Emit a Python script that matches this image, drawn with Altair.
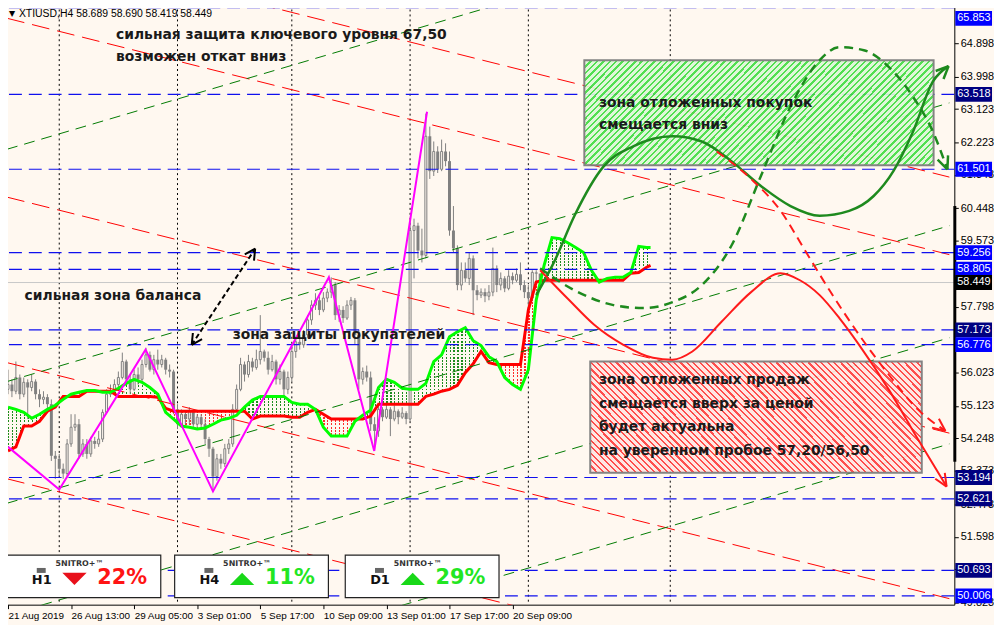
import math
import altair as alt
import pandas as pd

BG = "#FFF8F0"
W, H = 960, 605
XMIN, XMAX = -0.25, 238.8
YMIN, YMAX = 49.768, 65.94
PPB = W / (XMAX - XMIN)
PPS = H / (YMAX - YMIN)

# ---------------- data ----------------
open_first = 55.57
close = [55.70, 55.52, 55.89, 55.44, 55.76, 55.62, 55.78, 55.44, 55.30, 55.36,
         55.17, 53.78, 53.70, 53.43, 53.30, 54.10, 54.55, 54.63, 53.83, 54.10,
         53.83, 54.18, 54.10, 54.23, 54.95, 55.44, 55.52, 55.70, 55.89, 56.32,
         55.84, 55.57, 55.97, 55.84, 56.24, 56.50, 56.10, 56.37, 56.24, 56.37,
         56.10, 56.05, 55.03, 54.63, 54.90, 54.77, 54.98, 54.63, 54.82, 54.63,
         54.23, 53.97, 53.22, 53.70, 53.57, 53.97, 54.10, 55.03, 55.57, 56.24,
         55.97, 56.32, 56.16, 56.37, 56.59, 56.42, 56.10, 56.32, 55.84, 56.05,
         55.57, 55.89, 56.59, 56.85, 56.77, 57.04, 57.44, 57.84, 57.97, 57.71,
         58.03, 58.19, 58.38, 57.57, 57.71, 57.49, 57.84, 57.97, 57.04, 55.84,
         56.05, 55.89, 54.63, 54.45, 55.03, 54.82, 55.03, 54.77, 54.98, 54.82,
         54.93, 54.77, 59.85, 59.98, 59.31, 59.18, 62.39, 61.45, 61.98, 61.50,
         61.98, 61.72, 59.85, 59.37, 58.38, 58.78, 58.56, 59.10, 58.24, 58.11,
         58.19, 58.08, 58.19, 58.83, 58.38, 58.56, 58.29, 58.62, 58.51, 58.67,
         58.38, 58.19, 58.03, 58.72, 58.689, 58.449]
high = [56.10, 55.84, 56.32, 55.97, 55.89, 55.84, 55.97, 55.84, 55.57, 55.52,
        55.44, 55.30, 53.91, 53.83, 53.57, 54.23, 54.90, 54.90, 54.77, 54.23,
        54.23, 54.29, 54.29, 54.45, 55.03, 55.57, 55.70, 55.84, 56.05, 56.56,
        56.37, 55.97, 56.10, 56.16, 56.37, 56.69, 56.59, 56.50, 56.64, 56.50,
        56.42, 56.24, 56.10, 55.17, 55.03, 54.98, 55.09, 55.03, 54.90, 54.90,
        54.77, 54.29, 54.02, 53.83, 53.83, 54.10, 54.23, 55.17, 55.70, 56.42,
        56.32, 56.50, 56.42, 56.64, 57.57, 56.64, 56.59, 56.50, 56.37, 56.24,
        56.10, 56.05, 56.77, 56.96, 57.04, 57.17, 57.57, 57.97, 58.16, 58.08,
        58.19, 58.29, 58.59, 58.46, 57.84, 57.81, 57.97, 58.06, 58.03, 57.17,
        56.16, 56.21, 56.05, 54.82, 55.17, 55.09, 55.17, 55.09, 55.14, 55.03,
        55.09, 54.98, 60.11, 60.17, 60.06, 59.90, 63.00, 62.65, 62.25, 62.12,
        62.30, 62.20, 61.98, 60.51, 59.45, 58.99, 58.99, 59.26, 59.18, 58.38,
        58.29, 58.29, 58.38, 59.39, 58.91, 58.72, 58.62, 58.78, 58.72, 58.83,
        58.99, 58.51, 58.38, 58.78, 58.78, 58.690]
low = [55.44, 55.36, 55.44, 55.30, 55.36, 54.77, 55.52, 55.30, 55.09, 55.17,
       55.03, 53.64, 53.16, 53.22, 53.16, 53.22, 54.02, 54.45, 53.70, 53.75,
       53.70, 53.75, 53.97, 54.02, 54.15, 54.90, 55.36, 55.44, 55.62, 55.84,
       55.70, 55.44, 55.52, 55.70, 55.76, 56.16, 56.05, 55.97, 56.10, 56.16,
       55.97, 55.89, 54.90, 54.50, 54.55, 54.63, 54.63, 54.55, 54.55, 54.50,
       54.10, 53.75, 52.82, 53.11, 53.43, 53.48, 53.83, 54.02, 54.98, 55.52,
       55.78, 55.89, 56.05, 56.10, 56.24, 56.32, 55.97, 56.05, 55.70, 55.70,
       55.38, 55.44, 55.78, 56.42, 56.64, 56.69, 56.96, 57.31, 57.71, 57.57,
       57.65, 57.92, 58.03, 57.44, 57.39, 57.36, 57.44, 57.71, 56.77, 55.57,
       55.70, 55.78, 54.45, 53.91, 54.29, 54.71, 54.77, 54.31, 54.71, 54.63,
       54.77, 54.63, 54.71, 58.56, 59.10, 58.99, 59.10, 61.24, 61.32, 61.40,
       61.45, 61.58, 59.71, 59.26, 58.24, 58.24, 58.46, 58.38, 57.57, 57.97,
       58.03, 57.92, 57.97, 58.08, 58.19, 58.24, 58.19, 58.24, 58.40, 58.46,
       58.24, 58.03, 57.71, 57.97, 58.40, 58.419]

ichi_bar = list(range(0, 163, 2)) + [163]
span_a = [55.09, 55.03, 54.95, 54.79, 54.90, 55.03, 55.14, 55.30, 55.44, 55.49,
          55.54, 55.54, 55.49, 55.49, 55.60, 55.73, 55.84, 55.76, 55.62, 55.44,
          54.95, 54.77, 54.58, 54.55, 54.50, 54.53, 54.63, 54.74, 54.79, 54.87,
          55.09, 55.28, 55.38, 55.38, 55.38, 55.38, 55.22, 55.17, 55.17, 55.03,
          54.55, 54.31, 54.31, 54.31, 54.71, 54.87, 55.01, 55.62, 55.84, 55.76,
          55.60, 55.57, 55.57, 55.73, 56.32, 56.50, 56.99, 57.12, 57.23, 56.88,
          56.75, 56.45, 56.32, 55.89, 55.70, 55.57, 56.10, 57.98, 58.91, 59.66,
          59.63, 59.52, 59.39, 59.26, 58.78, 58.46, 58.56, 58.59, 58.59, 58.72,
          59.42, 59.39, 59.39]
span_b = [53.91, 54.02, 54.58, 54.58, 54.71, 54.98, 55.09, 55.38, 55.38, 55.38,
          55.52, 55.52, 55.52, 55.52, 55.38, 55.38, 55.38, 55.38, 55.38, 55.36,
          55.06, 54.98, 54.98, 54.98, 54.98, 54.98, 54.98, 54.98, 54.98, 54.98,
          54.98, 54.77, 54.85, 54.85, 54.85, 54.85, 54.82, 54.82, 54.95, 55.03,
          54.90, 54.77, 54.77, 54.77, 54.77, 54.77, 54.85, 55.17, 55.17, 55.17,
          55.17, 55.17, 55.17, 55.38, 55.44, 55.52, 55.57, 55.68, 56.02, 56.26,
          56.59, 56.29, 56.24, 56.24, 56.24, 56.24, 57.71, 58.46, 58.51, 58.51,
          58.51, 58.51, 58.51, 58.51, 58.51, 58.51, 58.51, 58.51, 58.51, 58.70,
          58.72, 58.86, 58.91]

zigzag_bar = [0, 13, 34.9, 52.0, 81.4, 92.9, 106.3]
zigzag_price = [54.02, 52.87, 56.64, 52.82, 58.59, 53.91, 63.05]

separator_bars = [13, 43, 72, 102, 132, 168]

level_prices = [65.853, 63.518, 61.501, 59.256, 58.805, 57.173, 56.776, 53.194, 52.621, 50.693, 50.006]
level_box = ["#0000FF", "#000080", "#0000FF", "#0000FF", "#0000FF", "#000080", "#0000FF",
             "#000080", "#000080", "#000080", "#0000FF"]
last_price = 58.449

red_trend_start = [67.65, 65.57, 60.75, 56.29, 53.16]
red_trend_end = [61.29, 59.20, 54.39, 49.93, 46.80]
green_trend_start = [62.04, 55.78, 52.50, 49.48, 46.61]
green_trend_end = [69.52, 63.29, 59.98, 56.96, 54.10]

time_ticks = [0, 16, 32, 48, 64, 80, 96, 112, 128]
time_labels = ["21 Aug 2019", "26 Aug 13:00", "29 Aug 05:00", "3 Sep 01:00", "5 Sep 17:00",
               "10 Sep 09:00", "13 Sep 01:00", "17 Sep 17:00", "20 Sep 09:00"]
price_ticks = [64.898, 63.998, 63.123, 62.223, 61.348, 60.448, 59.573, 58.673, 57.798,
               56.898, 56.023, 55.123, 54.248, 53.373, 52.473, 51.598, 50.723, 49.823]
price_ticks_hidden = [58.673, 56.898, 50.723]   # covered by the level boxes

buy_zone = dict(b=146.2, b2=234.8, p=64.44, p2=61.61)
sell_zone = dict(b=147.7, b2=231.8, p=56.32, p2=53.32)

g_solid_b = [134.0, 138.7, 143.7, 151.1, 158.6, 168.6, 176.0, 183.5, 191.0, 198.5, 205.9, 213.4, 219.6, 224.6, 229.6, 234.6, 238.6]
g_solid_p = [58.11, 59.04, 60.25, 61.58, 62.12, 62.39, 62.25, 61.72, 61.05, 60.51, 60.25, 60.38, 60.78, 61.45, 62.52, 63.86, 64.28]
g_dash_b = [135.0, 143.7, 153.6, 161.1, 168.6, 176.0, 183.5, 191.0, 198.5, 205.9, 210.9, 217.1, 223.4, 229.6, 234.6, 238.3]
g_dash_p = [58.83, 58.24, 57.84, 57.76, 57.92, 58.38, 59.44, 61.32, 63.19, 64.44, 64.79, 64.71, 64.26, 63.45, 62.52, 61.50]
r_solid_b = [135.0, 142.4, 148.7, 156.1, 163.6, 168.6, 173.6, 181.0, 188.5, 196.0, 200.9, 205.9, 210.9, 215.9, 223.4, 230.8, 238.1]
r_solid_p = [58.78, 57.97, 57.31, 56.77, 56.42, 56.37, 56.59, 57.39, 58.19, 58.70, 58.51, 58.11, 57.49, 56.77, 55.57, 54.23, 52.95]
r_dash_b = [179.8, 188.5, 196.0, 202.2, 208.4, 215.9, 223.4, 230.8, 237.8]
r_dash_p = [61.98, 61.24, 60.38, 59.31, 58.24, 57.04, 55.97, 55.03, 54.45]

balance_arrow = [(46.6, 56.77), (62.7, 59.36)]

notes = [
    ("сильная защита ключевого уровня 67,50", 27.4, 65.11),
    ("возможен откат вниз", 27.4, 64.52),
    ("сильная зона баланса", 4.2, 58.08),
    ("зона защиты покупателей", 57.0, 57.04),
    ("зона отложенных покупок", 149.9, 63.29),
    ("смещается вниз", 149.9, 62.68),
    ("зона отложенных продаж", 149.9, 55.81),
    ("смещается вверх за ценой", 149.9, 55.17),
    ("будет актуальна", 149.9, 54.55),
    ("на уверенном пробое 57,20/56,50", 149.9, 53.91),
]

panel_tf = ["H1", "H4", "D1"]
panel_pct = ["22%", "11%", "29%"]
panel_up = [False, True, True]
header = "XTIUSD,H4  58.689 58.690 58.419 58.449"

# ---------------- helpers ----------------
xs = alt.Scale(domain=[XMIN, XMAX], nice=False, zero=False)
ys = alt.Scale(domain=[YMIN, YMAX], nice=False, zero=False)
lab_expr = "[" + ",".join("'%s'" % t for t in time_labels) + "][round(datum.value / 16)]"
hide_cond = " || ".join("abs(datum.value - %s) < 0.0005" % v for v in price_ticks_hidden)
ylab_expr = "(%s) ? '' : format(datum.value, '.3f')" % hide_cond
XAX = alt.Axis(values=time_ticks, labelExpr=lab_expr, labelAlign="left", labelFont="Liberation Sans",
               labelFontSize=10, labelColor="black", tickColor="black", tickSize=4, domain=False,
               grid=False, title=None, labelPadding=2, labelFlush=False, labelOverlap=False)
YAX = alt.Axis(values=price_ticks, labelExpr=ylab_expr, orient="right", labelFont="Liberation Sans",
               labelFontSize=11, labelColor="black", tickColor="black", tickSize=4, domain=False,
               grid=False, title=None, labelPadding=2, labelOverlap=False, labelFlush=False)


def X(f):
    return alt.X(f + ":Q", scale=xs, axis=XAX)


def Y(f):
    return alt.Y(f + ":Q", scale=ys, axis=YAX)


def px(xr):
    return xr - 2.0


def py(yr):
    return yr - 2.0


def stripes(n, frac, c_on, c_off):
    st = []
    for i in range(n):
        a, m, e = i / n, (i + frac) / n, (i + 1) / n
        st += [alt.GradientStop(offset=round(a, 6), color=c_on), alt.GradientStop(offset=round(m, 6), color=c_on),
               alt.GradientStop(offset=round(m, 6), color=c_off), alt.GradientStop(offset=round(e, 6), color=c_off)]
    return st


def diag_grad(zone, period, c_on, c_off, frac, rising):
    wpx = (zone["b2"] - zone["b"]) * PPB
    hpx = abs(zone["p"] - zone["p2"]) * PPS
    s = (wpx + hpx) / (wpx ** 2 + hpx ** 2)
    n = max(1, int(round((wpx + hpx) / period)))
    if rising:
        x1, y1, x2, y2 = 0, 0, wpx * s, hpx * s
    else:
        x1, y1, x2, y2 = 0, 1, wpx * s, 1 - hpx * s
    return alt.LinearGradient(gradient="linear", stops=stripes(n, frac, c_on, c_off), x1=x1, y1=y1, x2=x2, y2=y2)


def heads(tip, prev, L=13, ang=26):
    dx = (tip[0] - prev[0]) * PPB
    dy = -(tip[1] - prev[1]) * PPS
    d = math.hypot(dx, dy)
    ux, uy = dx / d, dy / d
    rows = []
    for sgn in (1, -1):
        a = math.radians(ang) * sgn
        cx = -ux * math.cos(a) + uy * math.sin(a)
        cy = -ux * math.sin(a) - uy * math.cos(a)
        rows.append(dict(b=tip[0], p=tip[1], b2=tip[0] + L * cx / PPB, p2=tip[1] - L * cy / PPS))
    return rows


layers = []
one = pd.DataFrame({"d": [0]})

# separators
layers.append(alt.Chart(pd.DataFrame({"b": separator_bars})).mark_rule(color="black", strokeDash=[2, 3], strokeWidth=1)
              .encode(x=X("b")))
# last price line
layers.append(alt.Chart(pd.DataFrame({"p": [last_price]})).mark_rule(color="#C8C8C8", strokeWidth=1).encode(y=Y("p")))

# ichimoku cloud fill
idf = pd.DataFrame({"b": ichi_bar, "a": span_a, "bb": span_b})
idf["m"] = idf[["a", "bb"]].min(axis=1)
nbar = int(round(ichi_bar[-1] - ichi_bar[0]))
g_str = alt.LinearGradient(gradient="linear", stops=stripes(nbar, 0.3, "#1E8C1E", "rgba(0,0,0,0)"), x1=0, y1=0, x2=1, y2=0)
r_str = alt.LinearGradient(gradient="linear", stops=stripes(nbar, 0.3, "#FF2A2A", "rgba(0,0,0,0)"), x1=0, y1=0, x2=1, y2=0)
hg = (idf["a"].max() - idf["m"].min()) * PPS
hr = (idf["bb"].max() - idf["m"].min()) * PPS
g_mask = alt.LinearGradient(gradient="linear", stops=stripes(int(hg / 3.2), 0.4, BG, "rgba(0,0,0,0)"), x1=0, y1=0, x2=0, y2=1)
r_mask = alt.LinearGradient(gradient="linear", stops=stripes(int(hr / 3.2), 0.4, BG, "rgba(0,0,0,0)"), x1=0, y1=0, x2=0, y2=1)
layers.append(alt.Chart(idf).mark_area(fill=g_str).encode(x=X("b"), y=Y("a"), y2="m"))
layers.append(alt.Chart(idf).mark_area(fill=g_mask).encode(x=X("b"), y=Y("a"), y2="m"))
layers.append(alt.Chart(idf).mark_area(fill=r_str).encode(x=X("b"), y=Y("bb"), y2="m"))
layers.append(alt.Chart(idf).mark_area(fill=r_mask).encode(x=X("b"), y=Y("bb"), y2="m"))

# candles
opens = [open_first] + close[:-1]
cdf = pd.DataFrame({"b": list(range(len(close))), "o": opens, "h": high, "l": low, "c": close})
cdf["bull"] = cdf["c"] >= cdf["o"]
layers.append(alt.Chart(cdf).mark_rule(color="#808080", strokeWidth=1).encode(x=X("b"), y=Y("l"), y2="h"))
layers.append(alt.Chart(cdf[~cdf["bull"]]).mark_bar(size=3, color="#808080").encode(x=X("b"), y=Y("o"), y2="c"))
layers.append(alt.Chart(cdf[cdf["bull"]]).mark_bar(size=2, fill=BG, stroke="#808080", strokeWidth=1)
              .encode(x=X("b"), y=Y("o"), y2="c"))

# ichimoku lines
layers.append(alt.Chart(idf).mark_line(color="#FF0000", strokeWidth=3).encode(x=X("b"), y=Y("bb")))
layers.append(alt.Chart(idf).mark_line(color="#00FF00", strokeWidth=3).encode(x=X("b"), y=Y("a")))

# trend channels
rdf = pd.DataFrame({"b": [XMIN] * 5, "b2": [XMAX] * 5, "p": red_trend_start, "p2": red_trend_end})
gdf = pd.DataFrame({"b": [XMIN] * 5, "b2": [XMAX] * 5, "p": green_trend_start, "p2": green_trend_end})
layers.append(alt.Chart(rdf).mark_rule(color="#FF0000", strokeDash=[18, 8], strokeWidth=1, clip=True)
              .encode(x=X("b"), x2="b2", y=Y("p"), y2="p2"))
layers.append(alt.Chart(gdf).mark_rule(color="#007A00", strokeDash=[11, 7], strokeWidth=1, clip=True)
              .encode(x=X("b"), x2="b2", y=Y("p"), y2="p2"))

# horizontal levels
layers.append(alt.Chart(pd.DataFrame({"p": level_prices})).mark_rule(color="#1010EE", strokeDash=[13, 7], strokeWidth=1.2)
              .encode(y=Y("p")))

# zigzag
layers.append(alt.Chart(pd.DataFrame({"b": zigzag_bar, "p": zigzag_price})).mark_line(color="#FF00FF", strokeWidth=2)
              .encode(x=X("b"), y=Y("p")))

# zones
layers.append(alt.Chart(pd.DataFrame([buy_zone])).mark_rect(
    fill=diag_grad(buy_zone, 6.5, "#44DD44", "#DDF7D6", 0.38, True), stroke="#7A7A7A", strokeWidth=2, opacity=0.92)
    .encode(x=X("b"), x2="b2", y=Y("p"), y2="p2"))
layers.append(alt.Chart(pd.DataFrame([sell_zone])).mark_rect(
    fill=diag_grad(sell_zone, 6.5, "#FF4040", "#FFE6E2", 0.34, False), stroke="#7A7A7A", strokeWidth=2, opacity=0.92)
    .encode(x=X("b"), x2="b2", y=Y("p"), y2="p2"))

# forecast curves
curves = [(g_solid_b, g_solid_p, "#1E8A1E", None, 2.5),
          (g_dash_b, g_dash_p, "#1E8A1E", [9, 6], 2.5),
          (r_solid_b, r_solid_p, "#FF1A1A", None, 2),
          (r_dash_b, r_dash_p, "#FF1A1A", [9, 6], 2)]
for cb, cp, col, dash, sw in curves:
    kw = dict(color=col, strokeWidth=sw, interpolate="monotone")
    if dash:
        kw["strokeDash"] = dash
    layers.append(alt.Chart(pd.DataFrame({"b": cb, "p": cp})).mark_line(**kw).encode(x=X("b"), y=Y("p")))
    hd = pd.DataFrame(heads((cb[-1], cp[-1]), (cb[-2], cp[-2]), L=14, ang=24))
    layers.append(alt.Chart(hd).mark_rule(color=col, strokeWidth=sw).encode(x=X("b"), x2="b2", y=Y("p"), y2="p2"))

# balance double arrow
a0, a1 = balance_arrow
layers.append(alt.Chart(pd.DataFrame([dict(b=a0[0], p=a0[1], b2=a1[0], p2=a1[1])]))
              .mark_rule(color="black", strokeDash=[5, 3], strokeWidth=2).encode(x=X("b"), x2="b2", y=Y("p"), y2="p2"))
hd = pd.DataFrame(heads(a1, a0, L=12, ang=28) + heads(a0, a1, L=12, ang=28))
layers.append(alt.Chart(hd).mark_rule(color="black", strokeWidth=2).encode(x=X("b"), x2="b2", y=Y("p"), y2="p2"))

# annotations
ndf = pd.DataFrame(notes, columns=["t", "b", "p"])
layers.append(alt.Chart(ndf).mark_text(align="left", baseline="middle", font="DejaVu Sans", fontSize=14,
                                       fontWeight="bold", color="#1A1A1A")
              .encode(x=X("b"), y=Y("p"), text="t"))

# bottom panels
panel_left = [7, 176, 348]
for i in range(3):
    x0 = panel_left[i]
    layers.append(alt.Chart(one).mark_rect(fill="white", stroke="#222222", strokeWidth=1.2).encode(
        x=alt.value(px(x0)), x2=alt.value(px(x0 + 155)), y=alt.value(py(557)), y2=alt.value(py(600))))
    layers.append(alt.Chart(one).mark_text(text="5NITRO+™", font="DejaVu Sans", fontSize=8, fontWeight="bold",
                                           color="#333333", align="center", baseline="middle")
                  .encode(x=alt.value(px(x0 + 73)), y=alt.value(py(566))))
    layers.append(alt.Chart(one).mark_rect(fill="#666666").encode(
        x=alt.value(px(x0 + 30)), x2=alt.value(px(x0 + 39)), y=alt.value(py(570)), y2=alt.value(py(575))))
    layers.append(alt.Chart(one).mark_text(text=panel_tf[i], font="DejaVu Sans", fontSize=13, fontWeight="bold",
                                           color="#111111", align="center", baseline="middle")
                  .encode(x=alt.value(px(x0 + 35)), y=alt.value(py(582))))
    if panel_up[i]:
        shape, col, pcol = "M-1,0.5L1,0.5L0,-0.5Z", "#18D818", "#22E622"
    else:
        shape, col, pcol = "M-1,-0.5L1,-0.5L0,0.5Z", "#E8101A", "#FF1414"
    layers.append(alt.Chart(one).mark_point(shape=shape, filled=True, size=600, color=col, opacity=1)
                  .encode(x=alt.value(px(x0 + 68)), y=alt.value(py(581))))
    layers.append(alt.Chart(one).mark_text(text=panel_pct[i], font="DejaVu Sans", fontSize=21, fontWeight="bold",
                                           color=pcol, align="left", baseline="middle")
                  .encode(x=alt.value(px(x0 + 91)), y=alt.value(py(580))))

# header
layers.append(alt.Chart(one).mark_text(text="▼", font="DejaVu Sans", fontSize=8, color="black", align="center",
                                       baseline="middle").encode(x=alt.value(px(12)), y=alt.value(py(12))))
layers.append(alt.Chart(one).mark_text(text=header, font="Liberation Sans", fontSize=10.5, color="black",
                                       align="left", baseline="middle").encode(x=alt.value(px(19)), y=alt.value(py(12))))

# right axis price boxes (top one kept inside the visible page)
box_p = level_prices + [last_price]
box_c = level_box + ["#000000"]
ldf = pd.DataFrame({"p": box_p, "col": box_c})
top_limit = YMAX - 14.0 / PPS
ldf["disp"] = ldf["p"].clip(upper=top_limit)
ldf["lo"] = ldf["disp"] - 7.5 / PPS
ldf["hi"] = ldf["disp"] + 7.5 / PPS
layers.append(alt.Chart(pd.DataFrame({"p": [60.51], "p2": [53.62]})).mark_rule(color="black", strokeWidth=3)
              .encode(x=alt.value(W + 0.5), y=Y("p"), y2="p2"))
layers.append(alt.Chart(ldf).mark_rect().encode(x=alt.value(W + 1), x2=alt.value(W + 38), y=Y("lo"), y2="hi",
                                                 fill=alt.Color("col:N", scale=None)))
layers.append(alt.Chart(ldf).mark_text(align="left", baseline="middle", font="Liberation Sans", fontSize=11, color="white")
              .encode(x=alt.value(W + 3), y=Y("disp"), text=alt.Text("p:Q", format=".3f")))

chart = alt.layer(*layers).properties(width=W, height=H, background=BG,
                                      autosize=alt.AutoSizeParams(type="none"),
                                      padding={"left": -6, "top": -6, "right": 40, "bottom": 18}) \
    .configure_view(stroke="black", strokeWidth=1, fill=BG)

chart.save("out.html", embed_options={"renderer": "svg", "actions": False})
